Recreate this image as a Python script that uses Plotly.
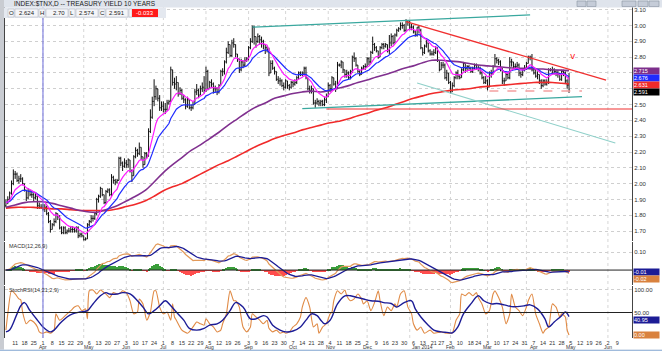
import pandas as pd
import plotly.graph_objects as go

title_text = "INDEX:$TNX,D -- TREASURY YIELD 10 YEARS"

# ---------------- daily data (weekdays from 2013-03-04) ----------------
first_open = 1.86
closes = [
    1.88, 1.90, 1.94, 2.00, 2.06,
    2.06, 2.02, 2.03, 2.03, 2.00,
    1.96, 1.91, 1.95, 1.93, 1.93,
    1.91, 1.92, 1.86, 1.85, 1.85,
    1.84, 1.85, 1.81, 1.76, 1.71,
    1.74, 1.76, 1.81, 1.79, 1.72,
    1.69, 1.72, 1.69, 1.70, 1.70,
    1.71, 1.71, 1.70, 1.72, 1.67,
    1.68, 1.67, 1.645, 1.65, 1.74,
    1.76, 1.78, 1.78, 1.81, 1.90,
    1.92, 1.97, 1.93, 1.88, 1.95,
    1.96, 1.93, 2.04, 2.02, 2.01,
    2.02, 2.16, 2.13, 2.11, 2.13,
    2.12, 2.15, 2.08, 2.05, 2.17,
    2.21, 2.19, 2.23, 2.17, 2.12,
    2.19, 2.18, 2.33, 2.42, 2.52,
    2.55, 2.60, 2.54, 2.48, 2.49,
    2.47, 2.47, 2.51, 2.52, 2.72,
    2.64, 2.63, 2.64, 2.57, 2.59,
    2.54, 2.53, 2.49, 2.53, 2.48,
    2.48, 2.50, 2.58, 2.59, 2.56,
    2.60, 2.61, 2.59, 2.71, 2.60,
    2.64, 2.63, 2.60, 2.60, 2.58,
    2.62, 2.71, 2.71, 2.77, 2.83,
    2.88, 2.81, 2.89, 2.88, 2.82,
    2.79, 2.72, 2.77, 2.75, 2.78,
    2.79, 2.86, 2.90, 2.99, 2.93,
    2.90, 2.93, 2.91, 2.90, 2.88,
    2.86, 2.85, 2.70, 2.76, 2.73,
    2.71, 2.66, 2.65, 2.65, 2.62,
    2.61, 2.65, 2.62, 2.61, 2.64,
    2.63, 2.64, 2.67, 2.70, 2.69,
    2.70, 2.73, 2.67, 2.60, 2.59,
    2.60, 2.51, 2.51, 2.52, 2.51,
    2.52, 2.50, 2.53, 2.55, 2.62,
    2.60, 2.67, 2.63, 2.60, 2.75,
    2.75, 2.77, 2.72, 2.69, 2.70,
    2.67, 2.71, 2.80, 2.79, 2.75,
    2.71, 2.69, 2.73, 2.74, 2.74,
    2.79, 2.77, 2.83, 2.88, 2.86,
    2.84, 2.80, 2.86, 2.88, 2.87,
    2.88, 2.84, 2.89, 2.93, 2.89,
    2.94, 2.97, 2.98, 3.00, 3.00,
    2.97, 3.03, 3.02, 2.99, 2.99,
    2.96, 2.94, 2.99, 2.97, 2.86,
    2.83, 2.87, 2.89, 2.84, 2.82,
    2.82, 2.83, 2.86, 2.78, 2.72,
    2.75, 2.75, 2.67, 2.70, 2.64,
    2.58, 2.62, 2.67, 2.70, 2.68,
    2.67, 2.72, 2.76, 2.73, 2.74,
    2.73, 2.71, 2.73, 2.75, 2.73,
    2.73, 2.70, 2.67, 2.64, 2.65,
    2.61, 2.70, 2.70, 2.74, 2.79,
    2.78, 2.77, 2.73, 2.65, 2.65,
    2.69, 2.67, 2.77, 2.77, 2.74,
    2.74, 2.75, 2.70, 2.69, 2.72,
    2.73, 2.76, 2.80, 2.80, 2.72,
    2.70, 2.68, 2.69, 2.65, 2.62,
    2.65, 2.63, 2.64, 2.72, 2.72,
    2.72, 2.71, 2.70, 2.69, 2.66,
    2.71, 2.70, 2.65, 2.624, 2.591,
]
highs = [
    1.90, 1.92, 1.95, 2.02, 2.09,
    2.08, 2.07, 2.05, 2.06, 2.04,
    2.00, 1.96, 1.97, 1.96, 1.95,
    1.94, 1.94, 1.92, 1.88, 1.87,
    1.87, 1.87, 1.86, 1.82, 1.77,
    1.75, 1.78, 1.82, 1.81, 1.80,
    1.73, 1.73, 1.73, 1.71, 1.72,
    1.73, 1.73, 1.72, 1.73, 1.73,
    1.69, 1.69, 1.67, 1.66, 1.75,
    1.77, 1.80, 1.80, 1.82, 1.91,
    1.93, 1.98, 1.97, 1.93, 1.96,
    1.97, 1.97, 2.06, 2.05, 2.03,
    2.03, 2.17, 2.17, 2.14, 2.16,
    2.15, 2.16, 2.15, 2.09, 2.18,
    2.23, 2.22, 2.26, 2.23, 2.17,
    2.20, 2.20, 2.35, 2.47, 2.55,
    2.66, 2.62, 2.60, 2.56, 2.52,
    2.52, 2.51, 2.53, 2.53, 2.74,
    2.72, 2.67, 2.68, 2.64, 2.61,
    2.60, 2.56, 2.54, 2.55, 2.53,
    2.50, 2.52, 2.60, 2.63, 2.60,
    2.62, 2.64, 2.68, 2.74, 2.72,
    2.65, 2.66, 2.64, 2.62, 2.61,
    2.63, 2.72, 2.73, 2.78, 2.86,
    2.90, 2.88, 2.91, 2.92, 2.88,
    2.82, 2.79, 2.79, 2.78, 2.80,
    2.80, 2.87, 2.92, 3.00, 3.00,
    2.93, 2.95, 2.94, 2.93, 2.91,
    2.88, 2.87, 2.86, 2.78, 2.78,
    2.74, 2.71, 2.68, 2.67, 2.66,
    2.64, 2.66, 2.65, 2.63, 2.65,
    2.65, 2.66, 2.68, 2.71, 2.71,
    2.71, 2.74, 2.74, 2.67, 2.62,
    2.62, 2.60, 2.53, 2.54, 2.53,
    2.53, 2.53, 2.55, 2.57, 2.64,
    2.63, 2.68, 2.67, 2.65, 2.77,
    2.76, 2.78, 2.77, 2.72, 2.72,
    2.71, 2.72, 2.81, 2.83, 2.80,
    2.75, 2.72, 2.74, 2.75, 2.76,
    2.80, 2.80, 2.84, 2.93, 2.89,
    2.87, 2.84, 2.87, 2.89, 2.89,
    2.89, 2.88, 2.94, 2.95, 2.94,
    2.95, 2.98, 2.99, 3.02, 3.02,
    3.01, 3.04, 3.03, 3.03, 3.01,
    3.00, 2.97, 2.99, 3.00, 2.98,
    2.86, 2.88, 2.91, 2.89, 2.85,
    2.84, 2.85, 2.87, 2.86, 2.78,
    2.77, 2.77, 2.76, 2.72, 2.70,
    2.65, 2.64, 2.68, 2.71, 2.72,
    2.69, 2.73, 2.77, 2.76, 2.75,
    2.75, 2.74, 2.74, 2.76, 2.76,
    2.75, 2.74, 2.71, 2.68, 2.68,
    2.66, 2.71, 2.72, 2.75, 2.82,
    2.80, 2.79, 2.78, 2.73, 2.67,
    2.70, 2.70, 2.80, 2.79, 2.77,
    2.76, 2.77, 2.76, 2.71, 2.73,
    2.75, 2.77, 2.81, 2.81, 2.82,
    2.73, 2.72, 2.71, 2.69, 2.66,
    2.66, 2.66, 2.66, 2.73, 2.73,
    2.74, 2.73, 2.72, 2.72, 2.70,
    2.72, 2.72, 2.71, 2.66, 2.70,
]
lows = [
    1.85, 1.87, 1.89, 1.93, 1.99,
    2.03, 2.01, 2.00, 2.01, 1.99,
    1.95, 1.89, 1.90, 1.92, 1.91,
    1.89, 1.90, 1.84, 1.84, 1.84,
    1.83, 1.82, 1.80, 1.75, 1.69,
    1.71, 1.73, 1.75, 1.77, 1.71,
    1.68, 1.68, 1.68, 1.68, 1.69,
    1.69, 1.69, 1.69, 1.69, 1.655,
    1.66, 1.66, 1.64, 1.64, 1.65,
    1.73, 1.75, 1.76, 1.77, 1.80,
    1.88, 1.91, 1.92, 1.87, 1.87,
    1.94, 1.92, 1.92, 2.00, 1.99,
    2.00, 2.02, 2.11, 2.08, 2.10,
    2.10, 2.10, 2.07, 2.01, 2.05,
    2.16, 2.17, 2.18, 2.15, 2.10,
    2.12, 2.16, 2.17, 2.32, 2.41,
    2.49, 2.53, 2.52, 2.46, 2.46,
    2.45, 2.44, 2.46, 2.50, 2.52,
    2.62, 2.60, 2.59, 2.55, 2.56,
    2.53, 2.51, 2.47, 2.48, 2.47,
    2.46, 2.47, 2.50, 2.56, 2.54,
    2.56, 2.58, 2.57, 2.58, 2.59,
    2.60, 2.61, 2.57, 2.58, 2.56,
    2.57, 2.62, 2.68, 2.69, 2.76,
    2.82, 2.80, 2.80, 2.86, 2.80,
    2.77, 2.70, 2.71, 2.73, 2.74,
    2.77, 2.78, 2.85, 2.89, 2.88,
    2.86, 2.89, 2.88, 2.86, 2.85,
    2.82, 2.83, 2.68, 2.70, 2.72,
    2.69, 2.65, 2.63, 2.62, 2.61,
    2.59, 2.60, 2.60, 2.59, 2.60,
    2.61, 2.62, 2.63, 2.66, 2.68,
    2.68, 2.69, 2.66, 2.59, 2.57,
    2.57, 2.50, 2.48, 2.50, 2.49,
    2.49, 2.49, 2.49, 2.51, 2.55,
    2.58, 2.60, 2.62, 2.58, 2.60,
    2.74, 2.73, 2.70, 2.67, 2.67,
    2.66, 2.66, 2.70, 2.77, 2.74,
    2.70, 2.68, 2.69, 2.72, 2.72,
    2.74, 2.75, 2.76, 2.82, 2.84,
    2.83, 2.79, 2.80, 2.85, 2.85,
    2.86, 2.83, 2.82, 2.87, 2.88,
    2.89, 2.93, 2.96, 2.97, 2.98,
    2.96, 2.96, 3.00, 2.97, 2.97,
    2.95, 2.93, 2.93, 2.95, 2.85,
    2.81, 2.82, 2.86, 2.83, 2.81,
    2.81, 2.81, 2.82, 2.77, 2.71,
    2.72, 2.73, 2.66, 2.65, 2.63,
    2.57, 2.58, 2.61, 2.66, 2.66,
    2.66, 2.67, 2.71, 2.70, 2.71,
    2.72, 2.70, 2.70, 2.72, 2.72,
    2.71, 2.69, 2.66, 2.63, 2.63,
    2.59, 2.61, 2.67, 2.69, 2.74,
    2.76, 2.75, 2.71, 2.63, 2.62,
    2.65, 2.66, 2.66, 2.74, 2.73,
    2.73, 2.73, 2.68, 2.67, 2.68,
    2.71, 2.72, 2.76, 2.78, 2.71,
    2.69, 2.67, 2.66, 2.63, 2.60,
    2.61, 2.62, 2.62, 2.63, 2.71,
    2.70, 2.69, 2.68, 2.67, 2.65,
    2.65, 2.68, 2.63, 2.60, 2.574,
]

# ---------------- long moving averages read weekly (Mondays) + last day ----------------
ma_dates = list(pd.date_range("2013-03-04", "2014-04-28", freq="W-MON")) + [pd.Timestamp("2014-05-02")]
purple_ma = [
    1.85, 1.865, 1.88, 1.885, 1.885, 1.875, 1.86, 1.845, 1.83, 1.82,
    1.82, 1.84, 1.86, 1.89, 1.92, 1.955, 2.01, 2.07, 2.12, 2.165,
    2.21, 2.245, 2.285, 2.325, 2.37, 2.41, 2.45, 2.485, 2.51, 2.54,
    2.555, 2.57, 2.58, 2.585, 2.58, 2.59, 2.605, 2.62, 2.64, 2.655,
    2.675, 2.69, 2.71, 2.73, 2.745, 2.765, 2.78, 2.78, 2.775, 2.77,
    2.76, 2.75, 2.745, 2.74, 2.735, 2.73, 2.73, 2.725, 2.725, 2.72,
    2.718, 2.715,
]
red_ma = [
    1.845, 1.85, 1.85, 1.85, 1.845, 1.84, 1.84, 1.835, 1.83, 1.83,
    1.83, 1.83, 1.84, 1.855, 1.87, 1.89, 1.92, 1.955, 1.98, 2.00,
    2.03, 2.06, 2.09, 2.12, 2.145, 2.175, 2.205, 2.235, 2.26, 2.285,
    2.305, 2.32, 2.34, 2.355, 2.37, 2.385, 2.395, 2.41, 2.43, 2.445,
    2.465, 2.48, 2.50, 2.52, 2.54, 2.555, 2.57, 2.58, 2.59, 2.595,
    2.60, 2.61, 2.615, 2.62, 2.625, 2.63, 2.635, 2.64, 2.64, 2.64,
    2.635, 2.631,
]

# ---------------- StochRSI: (trading-day number, value) ----------------
stoch_k_pts = [
    (0, 11), (1, 47), (3, 98), (5, 91), (7, 80), (8, 78), (9, 51), (11, 25), (13, 33), (15, 29),
    (17, 18), (18, 7), (20, 4), (22, 7), (24, 4), (26, 11), (27, 47), (29, 33), (32, 43), (35, 54),
    (37, 62), (39, 65), (41, 54), (43, 58), (44, 36), (45, 98), (47, 100), (49, 91), (51, 100), (53, 94),
    (54, 91), (56, 83), (58, 94), (60, 91), (62, 94), (63, 98), (65, 94), (67, 76), (69, 47), (71, 51),
    (72, 80), (74, 69), (76, 33), (78, 51), (80, 98), (81, 98), (83, 62), (85, 47), (87, 51), (89, 33),
    (90, 69), (91, 40), (92, 33), (95, 11), (98, 4), (99, 7), (101, 18), (103, 29), (105, 25), (107, 22),
    (108, 36), (110, 25), (112, 18), (114, 7), (116, 11), (117, 25), (119, 47), (121, 98), (123, 76), (124, 76),
    (126, 62), (128, 18), (130, 7), (132, 18), (133, 47), (135, 40), (137, 33), (139, 25), (141, 33), (142, 15),
    (144, 7), (146, 11), (148, 4), (150, 7), (151, 4), (153, 7), (155, 18), (157, 25), (159, 40), (160, 62),
    (162, 83), (164, 62), (166, 18), (168, 25), (169, 4), (171, 18), (173, 25), (175, 47), (176, 51), (177, 76),
    (179, 98), (181, 91), (183, 100), (184, 87), (186, 76), (188, 80), (190, 91), (192, 80), (193, 69), (195, 76),
    (197, 54), (199, 72), (201, 98), (202, 76), (204, 43), (206, 62), (208, 54), (210, 69), (211, 62), (213, 91),
    (215, 98), (217, 62), (219, 47), (220, 25), (222, 11), (224, 18), (226, 4), (229, 11), (231, 4), (235, 7),
    (238, 4), (241, 5), (243, 33), (245, 47), (246, 91), (248, 87), (250, 94), (252, 87), (254, 94), (255, 83),
    (257, 69), (259, 47), (261, 54), (263, 91), (264, 98), (266, 83), (268, 62), (270, 25), (272, 47), (273, 91),
    (275, 62), (277, 54), (279, 43), (281, 62), (282, 76), (284, 91), (286, 47), (288, 25), (290, 4), (291, 11),
    (293, 18), (295, 69), (297, 62), (299, 40), (300, 47), (302, 40), (303, 11), (304, 0),
]
stoch_d_pts = [
    (0, 7), (2, 11), (6, 47), (8, 65), (10, 72), (13, 54), (17, 33), (20, 18), (24, 7), (26, 11),
    (29, 25), (33, 40), (36, 47), (40, 51), (44, 54), (47, 69), (51, 87), (54, 94), (56, 91), (60, 91),
    (63, 94), (67, 91), (71, 76), (74, 62), (77, 47), (80, 54), (83, 65), (86, 76), (89, 65), (92, 51),
    (96, 33), (99, 15), (103, 11), (107, 15), (110, 22), (114, 25), (117, 33), (121, 54), (124, 72), (128, 62),
    (132, 36), (135, 36), (139, 43), (141, 40), (144, 22), (148, 11), (151, 7), (155, 9), (159, 18), (162, 33),
    (165, 47), (168, 43), (170, 33), (172, 25), (175, 33), (176, 40), (179, 69), (183, 87), (186, 87), (190, 83),
    (193, 80), (197, 76), (201, 75), (204, 72), (208, 70), (211, 62), (215, 72), (219, 76), (221, 58), (224, 40),
    (228, 22), (231, 11), (235, 7), (238, 6), (241, 5), (244, 18), (247, 47), (251, 69), (255, 87), (258, 76),
    (262, 69), (265, 70), (269, 67), (273, 63), (276, 63), (280, 65), (283, 67), (287, 58), (291, 36), (293, 18),
    (296, 29), (300, 43), (302, 51), (304, 40.95),
]

# ---------------- analyst drawings ----------------
teal_upper_x, teal_upper_y = ["2013-09-05", "2014-04-03"], [2.99, 3.067]
teal_lower_x, teal_lower_y = ["2013-10-14", "2014-05-13"], [2.475, 2.55]
red_flat_x, red_flat_y = ["2013-10-31", "2014-06-19"], [2.472, 2.472]
red_down_x, red_down_y = ["2013-12-31", "2014-05-30"], [3.025, 2.655]
teal_down_x, teal_down_y = ["2014-01-08", "2014-06-06"], [2.637, 2.257]
pink_dash_x, pink_dash_y = ["2014-03-04", "2014-05-13"], [2.586, 2.586]
sell_mark_x, sell_mark_y = ["2014-05-06"], [2.80]
cursor_date = "2013-04-01"
month_starts = ["2013-04-01", "2013-05-01", "2013-06-03", "2013-07-01", "2013-08-01",
                "2013-09-03", "2013-10-01", "2013-11-01", "2013-12-02", "2014-01-02",
                "2014-02-03", "2014-03-03", "2014-04-01", "2014-05-01", "2014-06-02"]
x_range = ["2013-03-01 12:00", "2014-06-19"]

# x tick positions (first trading day of each week)
tick_dates = list(pd.date_range("2013-03-11", "2014-06-09", freq="W-MON"))
tick_shift = {"2013-09-02": "2013-09-03", "2014-01-20": "2014-01-21", "2014-02-17": "2014-02-18"}
tick_dates = [pd.Timestamp(tick_shift.get(d.strftime("%Y-%m-%d"), d)) for d in tick_dates]
main_ticks = [1.7, 1.8, 1.9, 2.0, 2.1, 2.2, 2.3, 2.4, 2.5, 2.6, 2.7, 2.8, 2.9, 3.0, 3.1]
hidden_main_labels = [2.6, 2.7]   # covered by the value tags in the reference

# ---------------- derived series ----------------
dates = pd.bdate_range("2013-03-04", periods=len(closes))
opens = [first_open] + closes[:-1]
c = pd.Series(closes, index=dates)
pink = c.ewm(span=10, adjust=False).mean()
blue = c.ewm(span=20, adjust=False).mean()
macd = c.ewm(span=12, adjust=False).mean() - c.ewm(span=26, adjust=False).mean()
signal = macd.ewm(span=9, adjust=False).mean()
hist = macd - signal
k_x = [dates[i] for i, _ in stoch_k_pts]
k_y = [v for _, v in stoch_k_pts]
d_x = [dates[i] for i, _ in stoch_d_pts]
d_y = [v for _, v in stoch_d_pts]

# ---------------- geometry helpers ----------------
W, H = 662, 351
LM, RM, TM, BM = 5, 30, 5, 13
PW, PH = W - LM - RM, H - TM - BM


def pxx(x):
    return (x - LM) / PW


def pxy(y):
    return (H - BM - y) / PH


FONT = "Liberation Sans, Arial, sans-serif"
fig = go.Figure()

# main panel
fig.add_trace(go.Scatter(x=ma_dates, y=red_ma, mode="lines", line=dict(color="#f02a2a", width=1.6, shape="spline"), yaxis="y", hoverinfo="skip"))
fig.add_trace(go.Scatter(x=ma_dates, y=purple_ma, mode="lines", line=dict(color="#80308f", width=1.6, shape="spline"), yaxis="y", hoverinfo="skip"))
fig.add_trace(go.Ohlc(x=dates, open=opens, high=highs, low=lows, close=closes,
                      increasing=dict(line=dict(color="#111111", width=1)),
                      decreasing=dict(line=dict(color="#111111", width=1)),
                      tickwidth=0.45, yaxis="y", hoverinfo="skip"))
fig.add_trace(go.Scatter(x=dates, y=blue, mode="lines", line=dict(color="#1f2bff", width=1.2), yaxis="y", hoverinfo="skip"))
fig.add_trace(go.Scatter(x=dates, y=pink, mode="lines", line=dict(color="#ff1aff", width=1.2), yaxis="y", hoverinfo="skip"))

for xs, ys, col, w, dash in [
    (teal_upper_x, teal_upper_y, "#3aa89f", 1.3, "solid"),
    (teal_lower_x, teal_lower_y, "#3aa89f", 1.3, "solid"),
    (teal_down_x, teal_down_y, "#8fd0c9", 1.1, "solid"),
    (red_flat_x, red_flat_y, "#f03030", 1.2, "solid"),
    (red_down_x, red_down_y, "#f03030", 1.3, "solid"),
    (pink_dash_x, pink_dash_y, "#f4a0a0", 1.5, "dash"),
]:
    fig.add_trace(go.Scatter(x=xs, y=ys, mode="lines", line=dict(color=col, width=w, dash=dash), yaxis="y", hoverinfo="skip"))
fig.add_trace(go.Scatter(x=sell_mark_x, y=sell_mark_y, mode="text", text=["v"],
                         textfont=dict(color="#ff2020", size=9, family="DejaVu Sans"), yaxis="y", hoverinfo="skip"))

# MACD panel
fig.add_trace(go.Bar(x=dates, y=hist, marker=dict(color=["#3a9e3a" if v >= 0 else "#ff4d4d" for v in hist], line=dict(width=0)),
                     width=0.55 * 86400000, yaxis="y2", hoverinfo="skip"))
fig.add_trace(go.Scatter(x=dates, y=macd, mode="lines", line=dict(color="#e39a5a", width=1.2), yaxis="y2", hoverinfo="skip"))
fig.add_trace(go.Scatter(x=dates, y=signal, mode="lines", line=dict(color="#1c1c96", width=1.3), yaxis="y2", hoverinfo="skip"))

# Stoch panel
fig.add_trace(go.Scatter(x=k_x, y=k_y, mode="lines", line=dict(color="#e08a45", width=1.1, shape="spline", smoothing=0.6), yaxis="y3", hoverinfo="skip"))
fig.add_trace(go.Scatter(x=d_x, y=d_y, mode="lines", line=dict(color="#1c1c96", width=1.4, shape="spline"), yaxis="y3", hoverinfo="skip"))

axis_font = dict(family=FONT, size=6, color="#333333")
main_rng, macd_rng, stoch_rng = [1.637, 3.13], [-0.083, 0.156], [-6.5, 108.7]
fig.update_layout(
    width=W, height=H, margin=dict(l=LM, r=RM, t=TM, b=BM, autoexpand=False),
    paper_bgcolor="white", plot_bgcolor="white", showlegend=False, bargap=0,
    xaxis=dict(range=x_range, anchor="y3", rangebreaks=[dict(bounds=["sat", "mon"])],
               rangeslider=dict(visible=False), showgrid=False, zeroline=False, automargin=False,
               tickmode="array", tickvals=tick_dates, tickangle=0,
               ticktext=[f"{d.day}" for d in tick_dates],
               tickfont=dict(family=FONT, size=5.5, color="#333333"), ticks="", ticklabelstandoff=0),
    yaxis=dict(domain=[pxy(241), 1], range=main_rng, side="right", anchor="x", automargin=False,
               tickmode="array", tickvals=main_ticks,
               ticktext=["" if v in hidden_main_labels else f"{v:.2f}" for v in main_ticks],
               tickfont=axis_font, showgrid=True, gridcolor="#cfcfcf", griddash="dot", gridwidth=1,
               zeroline=False, showline=True, linecolor="#444444", linewidth=1, mirror=True, ticks=""),
    yaxis2=dict(domain=[pxy(285), pxy(242)], range=macd_rng, side="right", anchor="x", automargin=False,
                tickmode="array", tickvals=[0.10], ticktext=["0.10"], tickfont=axis_font,
                showgrid=True, gridcolor="#cfcfcf", griddash="dot", zeroline=False,
                showline=True, linecolor="#444444", linewidth=1, mirror=True, ticks=""),
    yaxis3=dict(domain=[0, pxy(286)], range=stoch_rng, side="right", anchor="x", automargin=False,
                tickmode="array", tickvals=[100, 50], ticktext=["100.00", "50.00"], tickfont=axis_font,
                showgrid=True, gridcolor="#cfcfcf", griddash="dot", zeroline=False,
                showline=True, linecolor="#444444", linewidth=1, mirror=True, ticks=""),
)

shapes = []
for d in month_starts:
    shapes.append(dict(type="line", xref="x", yref="paper", x0=d, x1=d, y0=0, y1=1,
                       line=dict(color="#d6d6d6", width=1, dash="dot"), layer="below"))
shapes.append(dict(type="line", xref="x", yref="paper", x0=cursor_date, x1=cursor_date, y0=0, y1=1,
                   line=dict(color="#6c6cdc", width=1)))
shapes.append(dict(type="line", xref="paper", yref="y2", x0=0, x1=1, y0=0, y1=0, line=dict(color="#222222", width=1)))
shapes.append(dict(type="line", xref="paper", yref="y3", x0=0, x1=1, y0=50, y1=50, line=dict(color="#222222", width=1)))
# window frame decorations
shapes += [
    dict(type="rect", xref="paper", yref="paper", x0=pxx(0), x1=pxx(662), y0=pxy(7.5), y1=pxy(0),
         fillcolor="#dfe4ec", line=dict(width=0)),
    dict(type="rect", xref="paper", yref="paper", x0=pxx(0), x1=pxx(166), y0=pxy(18), y1=pxy(7.5),
         fillcolor="#e4e8ef", line=dict(width=0)),
    dict(type="rect", xref="paper", yref="paper", x0=pxx(0), x1=pxx(4), y0=pxy(351), y1=pxy(0),
         fillcolor="#c9ccd2", line=dict(width=0)),
    dict(type="rect", xref="paper", yref="paper", x0=pxx(0), x1=pxx(662), y0=pxy(351), y1=pxy(349.5),
         fillcolor="#e6e9ef", line=dict(width=0)),
    dict(type="line", xref="paper", yref="paper", x0=pxx(0), x1=pxx(662), y0=pxy(350.3), y1=pxy(350.3),
         line=dict(color="#8fb0d8", width=1)),
]
# small window buttons (top right)
for x0, x1 in [(577, 586), (587, 596), (622, 636), (638, 648), (649, 659)]:
    shapes.append(dict(type="rect", xref="paper", yref="paper", x0=pxx(x0), x1=pxx(x1), y0=pxy(6.5), y1=pxy(1),
                       fillcolor="#c5ccd8", line=dict(color="#8a93a3", width=0.6)))
# header value cells
cells = [(8, 14), (15, 38), (39, 45), (46, 68), (69, 75), (76, 98), (99, 105), (106, 128), (129, 132)]
for x0, x1 in cells:
    shapes.append(dict(type="rect", xref="paper", yref="paper", x0=pxx(x0), x1=pxx(x1), y0=pxy(17), y1=pxy(9),
                       fillcolor="#f4f5f8", line=dict(color="#b8bcc6", width=0.6)))
shapes.append(dict(type="rect", xref="paper", yref="paper", x0=pxx(132), x1=pxx(158), y0=pxy(17), y1=pxy(9),
                   fillcolor="#ff1a1a", line=dict(width=0)))
fig.update_layout(shapes=shapes)

ann = []
small = dict(family=FONT, size=6, color="#222222")
ann.append(dict(xref="paper", yref="paper", x=pxx(12), y=pxy(3.8), text=title_text, showarrow=False,
                xanchor="left", yanchor="middle", font=dict(family=FONT, size=6.5, color="#1a1a1a")))
header = [("O", 11, None), (f"{opens[-1]:.3f}", 37, "right"), ("H", 42, None), (f"{highs[-1]:.2f}", 67, "right"),
          ("L", 72, None), (f"{lows[-1]:.3f}", 97, "right"), ("C", 102, None), (f"{closes[-1]:.3f}", 127, "right")]
for t, x, anc in header:
    ann.append(dict(xref="paper", yref="paper", x=pxx(x), y=pxy(13), text=t, showarrow=False,
                    xanchor=anc or "center", yanchor="middle", font=small))
ann.append(dict(xref="paper", yref="paper", x=pxx(156), y=pxy(13), text=f"{closes[-1] - closes[-2]:.3f}",
                showarrow=False, xanchor="right", yanchor="middle", font=dict(family=FONT, size=6, color="white")))
ann.append(dict(xref="paper", yref="paper", x=pxx(7), y=pxy(245.5), text="MACD(12,26,9)", showarrow=False,
                xanchor="left", yanchor="middle", font=dict(family=FONT, size=5.5, color="#333333")))
ann.append(dict(xref="paper", yref="paper", x=pxx(7), y=pxy(289.5), text="StochRSI(14,21,2,9)", showarrow=False,
                xanchor="left", yanchor="middle", font=dict(family=FONT, size=5.5, color="#333333")))
# month names under the first weekly tick of each month
for d in tick_dates:
    if d.day <= 7:
        jan14 = d.year == 2014 and d.month == 1
        ann.append(dict(xref="x", yref="paper", x=d, y=pxy(347.4), text=d.strftime("%b") + (" 2014" if jan14 else ""),
                        showarrow=False, xanchor="left" if jan14 else "center", xshift=-3 if jan14 else 0,
                        yanchor="middle", font=dict(family=FONT, size=5, color="#333333")))

# value tags on the right axis, stacked so they do not overlap (each other or the visible axis labels)
panel_px = {"y": (5, 241, main_rng), "y2": (242, 285, macd_rng), "y3": (286, 338, stoch_rng)}
tag_groups = {
    "y": [(purple_ma[-1], "#7d2f8c", "{:.3f}"), (blue.iloc[-1], "#1f2bff", "{:.3f}"),
          (red_ma[-1], "#f02a2a", "{:.3f}"), (closes[-1], "#000000", "{:.3f}")],
    "y2": [(signal.iloc[-1], "#1c1c96", "{:.2f}"), (macd.iloc[-1], "#d9823f", "{:.2f}")],
    "y3": [(d_y[-1], "#1c1c96", "{:.2f}"), (k_y[-1], "#d9823f", "{:.2f}")],
}


def val_to_pix(yr, v):
    top, bot, rng = panel_px[yr]
    return top + (rng[1] - v) / (rng[1] - rng[0]) * (bot - top)


for yr, items in tag_groups.items():
    top, bot, rng = panel_px[yr]
    items = sorted(items, key=lambda t: -t[0])
    last = val_to_pix("y3", 50) if yr == "y3" else -1e9
    for v, bg, fmt in items:
        ypix = max(val_to_pix(yr, v), last + 7.2)
        ypix = min(ypix, bot - 3)
        last = ypix
        ann.append(dict(xref="paper", yref="paper", x=1.002, y=pxy(ypix), text=fmt.format(v),
                        showarrow=False, xanchor="left", yanchor="middle", bgcolor=bg, borderpad=0,
                        width=25, height=6, align="left", font=dict(family=FONT, size=5.5, color="white")))
fig.update_layout(annotations=ann)

fig.write_html("out.html")
